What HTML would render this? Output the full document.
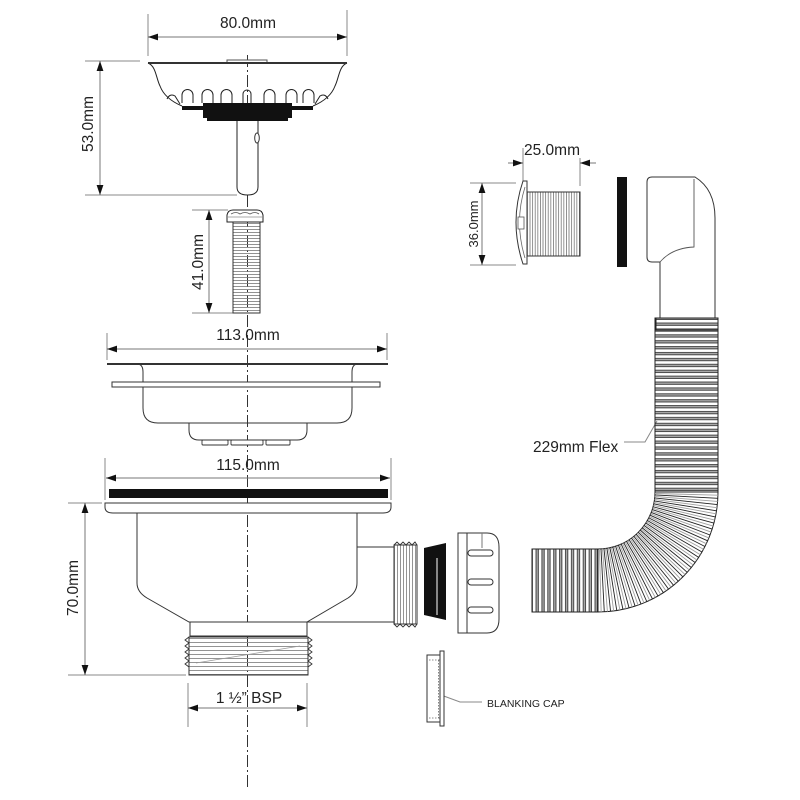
<!DOCTYPE html>
<html><head><meta charset="utf-8">
<style>html,body{margin:0;padding:0;background:#fff}svg{display:block}</style>
</head><body>
<svg width="800" height="800" viewBox="0 0 800 800" xmlns="http://www.w3.org/2000/svg" font-family="'Liberation Sans', Arial, sans-serif">
<defs>
<marker id="a" markerUnits="userSpaceOnUse" markerWidth="10" markerHeight="8" refX="10" refY="4" orient="auto-start-reverse"><path d="M0,0.6 L10,4 L0,7.4z" fill="#111"/></marker>
<pattern id="hr" patternUnits="userSpaceOnUse" x="0" y="319" width="20" height="5.9"><rect x="0" y="0" width="20" height="0.8" fill="#222"/><rect x="0" y="3.6" width="20" height="0.8" fill="#222"/><rect x="0" y="4.4" width="20" height="1.5" fill="#a8a8a8"/></pattern>
<pattern id="vr" patternUnits="userSpaceOnUse" x="532" y="0" width="5.9" height="20"><rect x="0" y="0" width="0.8" height="20" fill="#222"/><rect x="3.6" y="0" width="0.8" height="20" fill="#222"/><rect x="4.4" y="0" width="1.5" height="20" fill="#a8a8a8"/></pattern>
<pattern id="sh" patternUnits="userSpaceOnUse" x="0" y="223" width="20" height="3"><rect x="0" y="0" width="20" height="0.8" fill="#777"/></pattern>
<pattern id="bt" patternUnits="userSpaceOnUse" x="0" y="638" width="20" height="4"><rect x="0" y="0" width="20" height="0.9" fill="#888"/></pattern>
<pattern id="ot" patternUnits="userSpaceOnUse" x="394" y="0" width="3" height="20"><rect x="0" y="0" width="0.9" height="20" fill="#888"/></pattern>
<pattern id="ov" patternUnits="userSpaceOnUse" x="527" y="0" width="2.6" height="20"><rect x="0" y="0" width="0.8" height="20" fill="#777"/></pattern>
</defs>

<!-- centre line -->
<line x1="247.5" y1="55" x2="247.5" y2="790" stroke="#333" stroke-width="1" stroke-dasharray="12 3 2 3"/>

<g font-size="15.5" fill="#222">
<text x="248" y="28" text-anchor="middle">80.0mm</text>
<text transform="translate(93,124) rotate(-90)" text-anchor="middle">53.0mm</text>
<text transform="translate(203,262) rotate(-90)" text-anchor="middle">41.0mm</text>
<text x="248" y="340" text-anchor="middle">113.0mm</text>
<text x="248" y="470" text-anchor="middle">115.0mm</text>
<text transform="translate(78,588) rotate(-90)" text-anchor="middle">70.0mm</text>
<text x="249" y="703" text-anchor="middle">1 ½” BSP</text>
<text x="552" y="155" text-anchor="middle">25.0mm</text>
<text x="533" y="452">229mm Flex</text>
</g>
<text transform="translate(478,224) rotate(-90)" text-anchor="middle" font-size="13" fill="#222">36.0mm</text>
<text x="487" y="707" font-size="10.5" fill="#222">BLANKING CAP</text>

<!-- dimension lines -->
<g stroke="#888" stroke-width="1" fill="none">
<line x1="148" y1="14" x2="148" y2="56"/><line x1="347" y1="10" x2="347" y2="56"/>
<line x1="85" y1="61" x2="140" y2="61"/><line x1="85" y1="195" x2="237" y2="195"/>
<line x1="192" y1="210" x2="228" y2="210"/><line x1="192" y1="313" x2="233" y2="313"/>
<line x1="107" y1="333" x2="107" y2="360"/><line x1="387" y1="333" x2="387" y2="360"/>
<line x1="105" y1="458" x2="105" y2="500"/><line x1="391" y1="458" x2="391" y2="500"/>
<line x1="68" y1="503" x2="102" y2="503"/><line x1="68" y1="675" x2="186" y2="675"/>
<line x1="188" y1="683" x2="188" y2="727"/><line x1="307" y1="683" x2="307" y2="727"/>
<line x1="523" y1="148" x2="523" y2="181"/><line x1="580" y1="158" x2="580" y2="186"/>
<line x1="470" y1="183" x2="516" y2="183"/><line x1="470" y1="265" x2="516" y2="265"/>
<polyline points="441,695 460,702 482,702"/>
<polyline points="624,442 645,442 657,421"/>
</g>
<g stroke="#777" stroke-width="1" fill="none" marker-start="url(#a)" marker-end="url(#a)">
<line x1="148" y1="37" x2="347" y2="37"/>
<line x1="100" y1="61" x2="100" y2="195"/>
<line x1="209" y1="210" x2="209" y2="313"/>
<line x1="107" y1="349" x2="387" y2="349"/>
<line x1="106" y1="478" x2="390" y2="478"/>
<line x1="85" y1="503" x2="85" y2="675"/>
<line x1="188" y1="708" x2="307" y2="708"/>
<line x1="482" y1="183" x2="482" y2="265"/>
</g>
<g stroke="#777" stroke-width="1" fill="none" marker-end="url(#a)">
<line x1="508" y1="163" x2="523" y2="163"/>
<line x1="596" y1="163" x2="580" y2="163"/>
</g>

<!-- strainer basket -->
<g stroke="#222" stroke-width="1" fill="none">
<rect x="227" y="60" width="40" height="3" fill="#fff" stroke="#555"/>
<path d="M148 63 C156 66 156 78 160 86 C163 94 170 101 182 106"/>
<path d="M347 63 C339 66 339 78 335 86 C332 94 325 101 313 106"/>
<path d="M182 103 L182 95 A5.5 5.5 0 0 1 193 95 L193 103"/>
<path d="M202 103 L202 95 A5.5 5.5 0 0 1 213 95 L213 103"/>
<path d="M221 103 L221 95 A5.5 5.5 0 0 1 232 95 L232 103"/>
<path d="M243 103 L243 94 A4 4 0 0 1 251 94 L251 103"/>
<path d="M264 103 L264 95 A5.5 5.5 0 0 1 275 95 L275 103"/>
<path d="M286 103 L286 95 A5.5 5.5 0 0 1 297 95 L297 103"/>
<path d="M303 103 L303 95 A5.5 5.5 0 0 1 314 95 L314 103"/>
<path d="M167 99 Q170 93 175 96 L180 104"/>
<path d="M328 99 Q325 93 320 96 L315 104"/>
</g>
<line x1="148" y1="63" x2="347" y2="63" stroke="#333" stroke-width="2"/>
<rect x="182" y="106" width="131" height="4" fill="#111"/>
<rect x="203" y="103" width="89" height="15" fill="#111"/>
<rect x="207" y="117" width="81" height="4" fill="#111"/>
<path d="M237 121 L237 187 Q237 195 247.5 195 Q258 195 258 187 L258 121" fill="#fff" stroke="#222"/>
<ellipse cx="257" cy="138" rx="2.3" ry="5" fill="#fff" stroke="#333"/>

<!-- screw -->
<rect x="233" y="222" width="27" height="91" fill="url(#sh)" stroke="#333"/>
<path d="M227 222 L227 215 Q228 210 233 210 L257 210 Q262 210 263 215 L263 222 Z" fill="#fff" stroke="#222"/>
<path d="M231 214 Q236 211 240 214 Q245 211 250 214 Q255 211 259 214" fill="none" stroke="#555" stroke-width="0.8"/>
<line x1="228" y1="217" x2="262" y2="217" stroke="#555" stroke-width="0.6"/>

<!-- flange 113 -->
<line x1="107" y1="364" x2="388" y2="364" stroke="#333" stroke-width="2"/>
<path d="M137 364 Q143 364 143 372 L143 408 Q143 423 158 423 L337 423 Q352 423 352 408 L352 372 Q352 364 358 364" fill="none" stroke="#333"/>
<rect x="112" y="382" width="268" height="5" fill="#fff" stroke="#333"/>
<path d="M189 423 L189 430 Q189 440 199 440 L297 440 Q307 440 307 430 L307 423" fill="none" stroke="#333"/>
<g fill="#fff" stroke="#333" stroke-width="0.9">
<rect x="202" y="440" width="26" height="5" rx="1"/><rect x="231" y="440" width="32" height="5" rx="1"/><rect x="266" y="440" width="24" height="5" rx="1"/>
</g>

<!-- body 115 -->
<rect x="109" y="489" width="279" height="9" fill="#111"/>
<path d="M105 503 L391 503 L391 507 Q391 513 383 513 L113 513 Q105 513 105 507 Z" fill="#fff" stroke="#333"/>
<path d="M137 513 L137 583 Q137 592 147 598 L189 622 L307 622 L348 598 Q357 592 357 583 L357 513" fill="none" stroke="#333"/>
<line x1="357" y1="547" x2="394" y2="547" stroke="#333"/>
<line x1="307" y1="622" x2="394" y2="622" stroke="#333"/>
<rect x="190" y="622" width="117" height="14" fill="#fff" stroke="#333"/>
<rect x="189" y="637" width="119" height="38" fill="url(#bt)" stroke="#333"/>
<path d="M189 637 L185 640 L189 643 L185 646 L189 649 L185 652 L189 655 L185 658 L189 661 L185 664 L189 667 L189 675" fill="none" stroke="#333" stroke-width="0.9"/>
<path d="M308 637 L312 640 L308 643 L312 646 L308 649 L312 652 L308 655 L312 658 L308 661 L312 664 L308 667 L308 675" fill="none" stroke="#333" stroke-width="0.9"/>
<line x1="196" y1="663" x2="300" y2="646" stroke="#999" stroke-width="0.8"/>

<!-- outlet thread -->
<rect x="394" y="545" width="23" height="79" fill="url(#ot)" stroke="#333"/>
<path d="M394 545 L397 542 L400 545 L403 542 L406 545 L409 542 L412 545 L415 542 L417 545" fill="none" stroke="#333" stroke-width="0.9"/>
<path d="M394 624 L397 627 L400 624 L403 627 L406 624 L409 627 L412 624 L415 627 L417 624" fill="none" stroke="#333" stroke-width="0.9"/>

<!-- washer -->
<polygon points="424,548 446,543 446,620 424,615" fill="#111"/>
<line x1="437" y1="558" x2="437" y2="615" stroke="#fff" stroke-width="1"/>

<!-- nut -->
<path d="M458 533 L487 533 Q499 533 499 547 L499 619 Q499 633 487 633 L458 633 Z" fill="#fff" stroke="#333"/>
<line x1="467" y1="533" x2="467" y2="633" stroke="#333"/>
<line x1="482" y1="533" x2="482" y2="548" stroke="#777"/>
<g fill="#fff" stroke="#333">
<rect x="468" y="550" width="25" height="6" rx="3"/>
<rect x="468" y="579" width="25" height="6" rx="3"/>
<rect x="468" y="607" width="25" height="6" rx="3"/>
</g>

<!-- blanking cap -->
<rect x="427" y="655" width="13" height="67" fill="#fff" stroke="#333"/>
<rect x="440" y="651" width="4" height="75" fill="#fff" stroke="#333"/>
<g stroke="#666" stroke-width="0.8" stroke-dasharray="1.5 1.5" fill="none">
<line x1="429" y1="660" x2="440" y2="660"/><line x1="429" y1="718" x2="440" y2="718"/><line x1="438.5" y1="660" x2="438.5" y2="718"/>
</g>

<!-- overflow -->
<path d="M523 181 Q509 222 523 264 L527 264 L527 181 Z" fill="#fff" stroke="#333"/>
<path d="M525 187 Q514 222 525 258" fill="none" stroke="#666" stroke-width="0.8"/>
<rect x="518" y="217" width="6" height="12" fill="#fff" stroke="#555" stroke-width="0.8"/>
<rect x="527" y="192" width="53" height="64" fill="url(#ov)" stroke="#333"/>
<rect x="617" y="177" width="10" height="90" fill="#111"/>

<!-- elbow -->
<path d="M652 177 L695 177 C708 185 715 198 715 218 L715 319 M660 319 L660 262 L652 262 Q647 262 647 257 L647 182 Q647 177 652 177" fill="#fff" stroke="#333"/>
<path d="M660 262 Q672 248 694 247 L694 179" fill="none" stroke="#555" stroke-width="0.9"/>

<!-- flex hose -->
<rect x="655" y="318" width="63" height="174" fill="url(#hr)" stroke="#222"/>
<rect x="532" y="549" width="66" height="63" fill="url(#vr)" stroke="#222"/>
<path d="M655 492 A57 57 0 0 1 598 549 L598 612 A120 120 0 0 0 718 492 Z" fill="#fff" stroke="#222"/>
<g stroke="#222" stroke-width="0.9">
<line x1="655" y1="492" x2="718" y2="492"/>
<line x1="655" y1="492" x2="718" y2="492" transform="rotate(3 598 492)"/>
<line x1="655" y1="492" x2="718" y2="492" transform="rotate(6 598 492)"/>
<line x1="655" y1="492" x2="718" y2="492" transform="rotate(9 598 492)"/>
<line x1="655" y1="492" x2="718" y2="492" transform="rotate(12 598 492)"/>
<line x1="655" y1="492" x2="718" y2="492" transform="rotate(15 598 492)"/>
<line x1="655" y1="492" x2="718" y2="492" transform="rotate(18 598 492)"/>
<line x1="655" y1="492" x2="718" y2="492" transform="rotate(21 598 492)"/>
<line x1="655" y1="492" x2="718" y2="492" transform="rotate(24 598 492)"/>
<line x1="655" y1="492" x2="718" y2="492" transform="rotate(27 598 492)"/>
<line x1="655" y1="492" x2="718" y2="492" transform="rotate(30 598 492)"/>
<line x1="655" y1="492" x2="718" y2="492" transform="rotate(33 598 492)"/>
<line x1="655" y1="492" x2="718" y2="492" transform="rotate(36 598 492)"/>
<line x1="655" y1="492" x2="718" y2="492" transform="rotate(39 598 492)"/>
<line x1="655" y1="492" x2="718" y2="492" transform="rotate(42 598 492)"/>
<line x1="655" y1="492" x2="718" y2="492" transform="rotate(45 598 492)"/>
<line x1="655" y1="492" x2="718" y2="492" transform="rotate(48 598 492)"/>
<line x1="655" y1="492" x2="718" y2="492" transform="rotate(51 598 492)"/>
<line x1="655" y1="492" x2="718" y2="492" transform="rotate(54 598 492)"/>
<line x1="655" y1="492" x2="718" y2="492" transform="rotate(57 598 492)"/>
<line x1="655" y1="492" x2="718" y2="492" transform="rotate(60 598 492)"/>
<line x1="655" y1="492" x2="718" y2="492" transform="rotate(63 598 492)"/>
<line x1="655" y1="492" x2="718" y2="492" transform="rotate(66 598 492)"/>
<line x1="655" y1="492" x2="718" y2="492" transform="rotate(69 598 492)"/>
<line x1="655" y1="492" x2="718" y2="492" transform="rotate(72 598 492)"/>
<line x1="655" y1="492" x2="718" y2="492" transform="rotate(75 598 492)"/>
<line x1="655" y1="492" x2="718" y2="492" transform="rotate(78 598 492)"/>
<line x1="655" y1="492" x2="718" y2="492" transform="rotate(81 598 492)"/>
<line x1="655" y1="492" x2="718" y2="492" transform="rotate(84 598 492)"/>
<line x1="655" y1="492" x2="718" y2="492" transform="rotate(87 598 492)"/>
<line x1="655" y1="492" x2="718" y2="492" transform="rotate(90 598 492)"/>
</g>
<g stroke="#a0a0a0" stroke-width="0.9">
<line x1="655" y1="492" x2="718" y2="492" transform="rotate(1.5 598 492)"/>
<line x1="655" y1="492" x2="718" y2="492" transform="rotate(4.5 598 492)"/>
<line x1="655" y1="492" x2="718" y2="492" transform="rotate(7.5 598 492)"/>
<line x1="655" y1="492" x2="718" y2="492" transform="rotate(10.5 598 492)"/>
<line x1="655" y1="492" x2="718" y2="492" transform="rotate(13.5 598 492)"/>
<line x1="655" y1="492" x2="718" y2="492" transform="rotate(16.5 598 492)"/>
<line x1="655" y1="492" x2="718" y2="492" transform="rotate(19.5 598 492)"/>
<line x1="655" y1="492" x2="718" y2="492" transform="rotate(22.5 598 492)"/>
<line x1="655" y1="492" x2="718" y2="492" transform="rotate(25.5 598 492)"/>
<line x1="655" y1="492" x2="718" y2="492" transform="rotate(28.5 598 492)"/>
<line x1="655" y1="492" x2="718" y2="492" transform="rotate(31.5 598 492)"/>
<line x1="655" y1="492" x2="718" y2="492" transform="rotate(34.5 598 492)"/>
<line x1="655" y1="492" x2="718" y2="492" transform="rotate(37.5 598 492)"/>
<line x1="655" y1="492" x2="718" y2="492" transform="rotate(40.5 598 492)"/>
<line x1="655" y1="492" x2="718" y2="492" transform="rotate(43.5 598 492)"/>
<line x1="655" y1="492" x2="718" y2="492" transform="rotate(46.5 598 492)"/>
<line x1="655" y1="492" x2="718" y2="492" transform="rotate(49.5 598 492)"/>
<line x1="655" y1="492" x2="718" y2="492" transform="rotate(52.5 598 492)"/>
<line x1="655" y1="492" x2="718" y2="492" transform="rotate(55.5 598 492)"/>
<line x1="655" y1="492" x2="718" y2="492" transform="rotate(58.5 598 492)"/>
<line x1="655" y1="492" x2="718" y2="492" transform="rotate(61.5 598 492)"/>
<line x1="655" y1="492" x2="718" y2="492" transform="rotate(64.5 598 492)"/>
<line x1="655" y1="492" x2="718" y2="492" transform="rotate(67.5 598 492)"/>
<line x1="655" y1="492" x2="718" y2="492" transform="rotate(70.5 598 492)"/>
<line x1="655" y1="492" x2="718" y2="492" transform="rotate(73.5 598 492)"/>
<line x1="655" y1="492" x2="718" y2="492" transform="rotate(76.5 598 492)"/>
<line x1="655" y1="492" x2="718" y2="492" transform="rotate(79.5 598 492)"/>
<line x1="655" y1="492" x2="718" y2="492" transform="rotate(82.5 598 492)"/>
<line x1="655" y1="492" x2="718" y2="492" transform="rotate(85.5 598 492)"/>
<line x1="655" y1="492" x2="718" y2="492" transform="rotate(88.5 598 492)"/>
</g>
<rect x="656" y="318" width="62" height="12" fill="none" stroke="#222"/>
</svg>
</body></html>
